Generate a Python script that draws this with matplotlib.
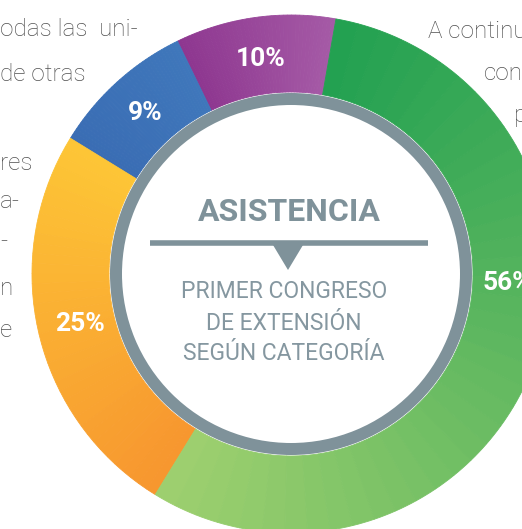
import numpy as np
import matplotlib.pyplot as plt
from matplotlib.patches import Wedge, Polygon
from matplotlib.colors import to_rgb

# data
categories = ['Otros', 'Docentes', 'No docentes', 'Estudiantes']
values = [10, 9, 25, 56]
labels = ['10%', '9%', '25%', '56%']
# gradient end colours for every slice (start of slice -> end of slice, counterclockwise)
grad = [('#a55aa6', '#8e3790'),
        ('#3f77bb', '#3a6db4'),
        ('#fdc636', '#f7962f'),
        ('#9fd06f', '#21a051')]
start = 80

W, H = 522, 529
cx, cy = 291, H - 274
R, ring_w = 259, 77
grey = '#7f929a'

fig = plt.figure(figsize=(W / 100, H / 100), dpi=100)
ax = fig.add_axes([0, 0, 1, 1])

font = ['Roboto', 'DejaVu Sans']

# donut split into thin pieces to get the colour gradient
sub_vals, sub_cols = [], []
n = 40
for v, (c0, c1) in zip(values, grad):
    a, b = np.array(to_rgb(c0)), np.array(to_rgb(c1))
    for i in range(n):
        t = (i + 0.5) / n
        sub_vals.append(v / n)
        sub_cols.append(tuple(a + (b - a) * t))
wedges, _ = ax.pie(sub_vals, colors=sub_cols, startangle=start, counterclock=True,
                   radius=R, center=(cx, cy), frame=True,
                   wedgeprops=dict(width=ring_w, linewidth=0.6))
for w, c in zip(wedges, sub_cols):
    w.set_edgecolor(c)
ax.set_xlim(0, W)
ax.set_ylim(0, H)
ax.set_aspect('equal')
ax.axis('off')

# background text fragments (page copy behind the chart)
body = [(0, 36, 'odas las  uni-'), (0, 81, 'de otras'), (0, 170, 'res'),
        (0, 208, 'a-'), (0, 248, '-'), (0, 295, 'n'), (0, 337, 'e'),
        (428, 38, 'A continu'), (484, 80, 'con'), (514, 122, 'p')]
for x, y, t in body:
    ax.text(x, H - y, t, fontsize=17.5, color='#505050', family=font,
            fontweight='light', ha='left', va='baseline', zorder=0)

# percentage labels
cum = np.cumsum([0] + values)
for i, lab in enumerate(labels):
    ang = start + (cum[i] + values[i] / 2) * 3.6
    if lab == '56%':
        ang = -2.5
    r = 217
    ax.text(cx + r * np.cos(np.radians(ang)), cy + r * np.sin(np.radians(ang)), lab,
            color='white', fontsize=19, fontweight='bold', family=font,
            ha='center', va='center', zorder=5)

# inner grey ring + white disc
ax.add_patch(Wedge((cx, cy), 181, 0, 360, width=181, facecolor='white', zorder=3))
ax.add_patch(Wedge((cx, cy), 181, 0, 360, width=12, facecolor=grey, zorder=4))

# centre title
ax.text(cx - 2, H - 212, 'ASISTENCIA', color=grey, fontsize=23, fontweight='bold',
        family=font, ha='center', va='center', zorder=5)
ax.plot([150, 428], [H - 243, H - 243], color=grey, lw=4, solid_capstyle='butt', zorder=5)
ax.add_patch(Polygon([[273, H - 245], [303, H - 245], [288, H - 270]],
                     closed=True, facecolor=grey, zorder=5))
sub = ['PRIMER CONGRESO', 'DE EXTENSIÓN', 'SEGÚN CATEGORÍA']
for k, s in enumerate(sub):
    ax.text(cx - 7, H - (292 + 31 * k), s, color='#8597a0', fontsize=16.5,
            family=font, ha='center', va='center', zorder=5)

fig.savefig('out.png', dpi=100, facecolor='white')
